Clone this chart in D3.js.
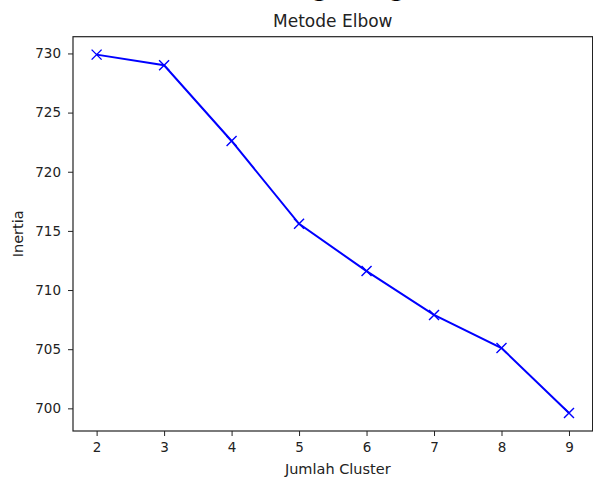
<!DOCTYPE html>
<html>
<head>
<meta charset="utf-8">
<script src="https://cdn.jsdelivr.net/npm/d3@7"></script>
<style>
  body { margin: 0; background: #fff; }
  text { font-family: "DejaVu Sans", sans-serif; fill: #222; }
</style>
</head>
<body>
<div id="chart"></div>
<script>
    const clusters = [2, 3, 4, 5, 6, 7, 8, 9],
        inertia = [729.9, 729.0, 722.6, 715.6, 711.6, 707.9, 705.1, 699.6],
        yTicks = [700, 705, 710, 715, 720, 725, 730];

    const W = 593, H = 478,
        margin = { left: 73, right: 0.4, top: 36.7, bottom: 47 },
        TickFont = 13.5;

    const svg = d3.select('#chart').append('svg')
        .attr('width', W)
        .attr('height', H);

    const x = d3.scaleLinear()
        .domain([1.65, 9.35])
        .range([margin.left, W - margin.right]);
    const y = d3.scaleLinear()
        .domain([698.085, 731.415])
        .range([H - margin.bottom, margin.top]);

    // suptitle cropped off by the top edge in the source, only descenders show
    svg.append('text')
        .attr('y', -3.5)
        .attr('font-family', 'DejaVu Serif')
        .attr('font-weight', 'bold')
        .attr('font-size', 22)
        .attr('text-anchor', 'middle')
        .style('fill', '#000')
        .selectAll('tspan')
        .data(['g', 'g'])
        .enter().append('tspan')
        .attr('x', (d, i) => i ? 397 : 320)
        .text(d => d);

    // axes
    svg.append('g')
        .attr('transform', `translate(0,${H - margin.bottom})`)
        .call(d3.axisBottom(x).tickValues(clusters).tickSize(5).tickPadding(6).tickFormat(d3.format('d')))
        .call(g => g.selectAll('text').attr('font-size', TickFont).attr('font-family', 'DejaVu Sans').attr('fill', '#222'))
        .call(g => g.select('.domain').remove());
    svg.append('g')
        .attr('transform', `translate(${margin.left},0)`)
        .call(d3.axisLeft(y).tickValues(yTicks).tickSize(5).tickPadding(7))
        .call(g => g.selectAll('text').attr('font-size', TickFont).attr('font-family', 'DejaVu Sans').attr('fill', '#222'))
        .call(g => g.select('.domain').remove());

    svg.selectAll('.tick line').attr('stroke', '#222').attr('stroke-width', 1);

    // frame
    svg.append('rect')
        .attr('x', margin.left)
        .attr('y', margin.top)
        .attr('width', x.range()[1] - margin.left)
        .attr('height', y.range()[0] - margin.top)
        .attr('fill', 'none')
        .attr('stroke', '#222')
        .attr('stroke-width', 1.2);

    // line
    const pts = clusters.map((c, i) => [c, inertia[i]]);
    svg.append('path')
        .datum(pts)
        .attr('fill', 'none')
        .attr('stroke', '#0000ff')
        .attr('stroke-width', 2)
        .attr('d', d3.line().x(d => x(d[0])).y(d => y(d[1])));

    // x markers
    const m = 5;
    svg.selectAll('.mk')
        .data(pts)
        .enter().append('path')
        .attr('class', 'mk')
        .attr('fill', 'none')
        .attr('stroke', '#0000ff')
        .attr('stroke-width', 1.4)
        .attr('d', d => {
            const cx = x(d[0]), cy = y(d[1]);
            return `M${cx - m},${cy - m}L${cx + m},${cy + m}M${cx - m},${cy + m}L${cx + m},${cy - m}`;
        });

    // labels
    const midX = (x.range()[0] + x.range()[1]) / 2;
    svg.append('text')
        .attr('x', midX)
        .attr('y', 27)
        .attr('text-anchor', 'middle')
        .attr('font-size', 17)
        .text('Metode Elbow');
    svg.append('text')
        .attr('x', midX + 5)
        .attr('y', 474)
        .attr('text-anchor', 'middle')
        .attr('font-size', 14.5)
        .text('Jumlah Cluster');
    svg.append('text')
        .attr('transform', `translate(23,${(margin.top + y.range()[0]) / 2}) rotate(-90)`)
        .attr('text-anchor', 'middle')
        .attr('font-size', 14.5)
        .text('Inertia');
</script>
</body>
</html>
